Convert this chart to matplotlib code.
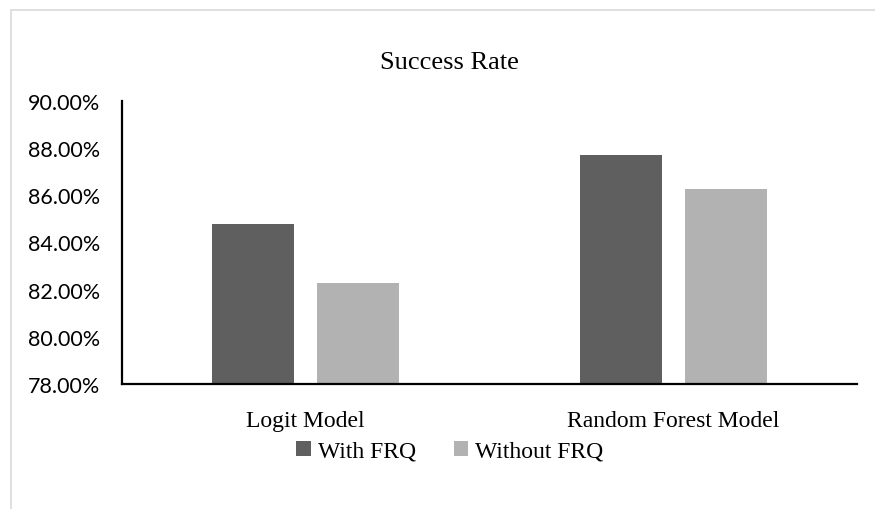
import matplotlib
matplotlib.use("Agg")
import matplotlib.pyplot as plt
from matplotlib.patches import Rectangle
from matplotlib.ticker import FuncFormatter
import numpy as np

categories = ["Logit Model", "Random Forest Model"]
with_frq = [84.79, 87.69]
without_frq = [82.28, 86.28]
series_names = ["With FRQ", "Without FRQ"]
colors = ["#5f5f5f", "#b2b2b2"]

fig = plt.figure(figsize=(8.75, 5.1), dpi=100)
fig.patch.set_facecolor("white")

# light frame around the chart area (runs off right/bottom like the original)
fig.patches.append(Rectangle((11 / 875, -0.1), 1.2, 1 - 11 / 510 + 0.1,
                             transform=fig.transFigure, fill=False,
                             edgecolor="#d9d9d9", linewidth=1.2))

ax = fig.add_axes([122 / 875, 1 - 385 / 510, 735 / 875, (385 - 101.7) / 510])

x = np.arange(len(categories))
width = 0.223
offset = 0.1425
ax.bar(x - offset, with_frq, width, color=colors[0], label=series_names[0])
ax.bar(x + offset, without_frq, width, color=colors[1], label=series_names[1])

ax.set_xlim(-0.5, 1.5)
ax.set_ylim(78, 90)
ax.set_yticks(np.arange(78, 90.1, 2))
ax.yaxis.set_major_formatter(FuncFormatter(lambda v, _: f"{v:.2f}%"))
ax.set_xticks(x)
ax.set_xticklabels(categories, fontfamily="Liberation Serif", fontsize=17)
for lab in ax.get_yticklabels():
    lab.set_fontfamily("Lato")
    lab.set_fontsize(15.5)
ax.tick_params(length=0)
ax.tick_params(axis="x", pad=19)
ax.tick_params(axis="y", pad=16)

for side in ["top", "right"]:
    ax.spines[side].set_visible(False)
for side in ["left", "bottom"]:
    ax.spines[side].set_linewidth(1.6)
    ax.spines[side].set_color("black")

fig.text(0.514, 1 - 63 / 510, "Success Rate", ha="center", va="center",
         fontfamily="Liberation Serif", fontsize=19)

fig.legend(loc="center", bbox_to_anchor=(0.514, 1 - 452 / 510), ncol=2,
           frameon=False, prop={"family": "Liberation Serif", "size": 17},
           handlelength=0.6, handleheight=0.6, handletextpad=0.3,
           columnspacing=1.6)

fig.savefig("out.png", dpi=100)
